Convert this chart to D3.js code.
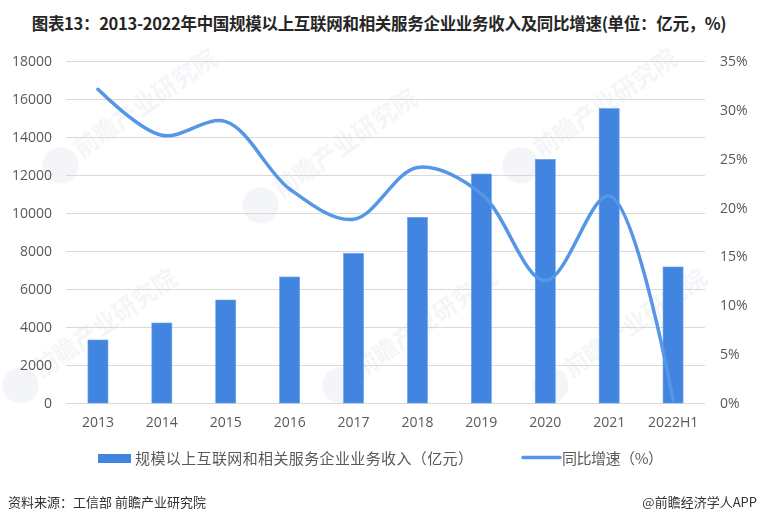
<!DOCTYPE html>
<html><head><meta charset="utf-8">
<script src="https://cdn.jsdelivr.net/npm/d3@7"></script>
<style>
html,body{margin:0;padding:0;background:#fff;}
svg{display:block;}
</style></head>
<body>
<svg id="chart" width="759" height="523"></svg>
<script>
const categories = ["2013","2014","2015","2016","2017","2018","2019","2020","2021","2022H1"];
const revenue = [3316, 4210, 5420, 6632, 7877, 9772, 12052, 12825, 15500, 7158];
const growth = [32.1, 27.4, 28.8, 21.9, 18.8, 24.1, 21.4, 12.5, 21.2, 0.3];
const leftTicks = [0,2000,4000,6000,8000,10000,12000,14000,16000,18000];
const rightTicks = [0,5,10,15,20,25,30,35];
const titleText = "图表13：2013-2022年中国规模以上互联网和相关服务企业业务收入及同比增速(单位：亿元，%)";
const legendBar = "规模以上互联网和相关服务企业业务收入（亿元）";
const legendLine = "同比增速（%）";
const sourceText = "资料来源：工信部 前瞻产业研究院";
const brandText = "@前瞻经济学人APP";

const svg = d3.select("#chart");
const L = 66, R = 705, T = 61, B = 403;
const cjk = "'Noto Sans CJK SC','Noto Sans',sans-serif";
const num = "'Open Sans','Noto Sans',sans-serif";

const x = d3.scaleBand().domain(categories).range([L, R]).paddingInner(0.687).paddingOuter(0.3435);
const yL = d3.scaleLinear().domain([0, 18000]).range([B, T]);
const yR = d3.scaleLinear().domain([0, 35]).range([B, T]);

// title
svg.append("text").attr("x", 379).attr("y", 30).attr("text-anchor", "middle")
  .style("font-family", cjk).style("font-weight", "bold").style("font-size", "16.5px")
  .style("letter-spacing", "-0.3px")
  .attr("fill", "#262626").text(titleText);

// watermarks
const wm = [[150,110],[110,330],[350,150],[430,330],[610,110],[640,330]];
const wg = svg.append("g").attr("opacity", 0.06);
wm.forEach(([wx, wy]) => {
  const g = wg.append("g").attr("transform", `translate(${wx},${wy}) rotate(-35)`);
  g.append("text").attr("x", 0).attr("y", 0).attr("text-anchor", "middle")
    .style("font-family", cjk).style("font-weight", "bold").style("font-size", "24px")
    .attr("fill", "#3a5a8a").text("前瞻产业研究院");
  g.append("circle").attr("cx", -105).attr("cy", -6).attr("r", 18).attr("fill", "#3a5a8a");
});

// gridlines
svg.append("g").selectAll("line").data(leftTicks).join("line")
  .attr("x1", L).attr("x2", R)
  .attr("y1", d => Math.round(yL(d)) + 0.5).attr("y2", d => Math.round(yL(d)) + 0.5)
  .attr("stroke", "#d9d9d9").attr("stroke-width", 1);

// left axis
const axL = svg.append("g").attr("transform", `translate(${L},0)`)
  .call(d3.axisLeft(yL).tickValues(leftTicks).tickSize(0).tickPadding(14).tickFormat(d3.format("d")));
axL.select(".domain").remove();
axL.selectAll("text").style("font-family", num).style("font-size", "14px").attr("fill", "#595959");

// right axis
const axR = svg.append("g").attr("transform", `translate(${R},0)`)
  .call(d3.axisRight(yR).tickValues(rightTicks).tickSize(0).tickPadding(15).tickFormat(d => d + "%"));
axR.select(".domain").remove();
axR.selectAll("text").style("font-family", num).style("font-size", "14px").attr("fill", "#595959");

// bottom axis
const axB = svg.append("g").attr("transform", `translate(0,${B})`)
  .call(d3.axisBottom(x).tickSize(0).tickPadding(14));
axB.select(".domain").remove();
axB.selectAll("text").style("font-family", num).style("font-size", "14px").attr("fill", "#595959");

// bars
svg.append("g").selectAll("rect").data(categories).join("rect")
  .attr("x", d => x(d)).attr("width", x.bandwidth())
  .attr("y", (d, i) => yL(revenue[i])).attr("height", (d, i) => B - yL(revenue[i]))
  .attr("fill", "#4285e0").attr("stroke", "#6aa0ea").attr("stroke-width", 0.6);

// line
const line = d3.line()
  .x((d, i) => x(categories[i]) + x.bandwidth() / 2)
  .y(d => yR(d))
  .curve(d3.curveCatmullRom.alpha(0.5));
svg.append("path").datum(growth).attr("d", line)
  .attr("fill", "none").attr("stroke", "#5596e6").attr("stroke-width", 3.5)
  .attr("stroke-linecap", "round").attr("stroke-linejoin", "round");

// legend
svg.append("rect").attr("x", 98).attr("y", 454).attr("width", 33).attr("height", 9).attr("fill", "#4285e0");
svg.append("text").attr("x", 135).attr("y", 464)
  .attr("textLength", 338).attr("lengthAdjust", "spacing")
  .style("font-family", cjk).style("font-size", "15px").attr("fill", "#595959").text(legendBar);
svg.append("line").attr("x1", 523).attr("x2", 560).attr("y1", 457.5).attr("y2", 457.5)
  .attr("stroke", "#5596e6").attr("stroke-width", 3.5).attr("stroke-linecap", "round");
svg.append("text").attr("x", 562).attr("y", 464)
  .attr("textLength", 101).attr("lengthAdjust", "spacing")
  .style("font-family", cjk).style("font-size", "15px").attr("fill", "#595959").text(legendLine);

// source
svg.append("text").attr("x", 8).attr("y", 507)
  .style("font-family", cjk).style("font-size", "13px").attr("fill", "#333").text(sourceText);
svg.append("text").attr("x", 757).attr("y", 507).attr("text-anchor", "end")
  .style("font-family", cjk).style("font-size", "13px").attr("fill", "#333").text(brandText);
</script>
</body></html>
